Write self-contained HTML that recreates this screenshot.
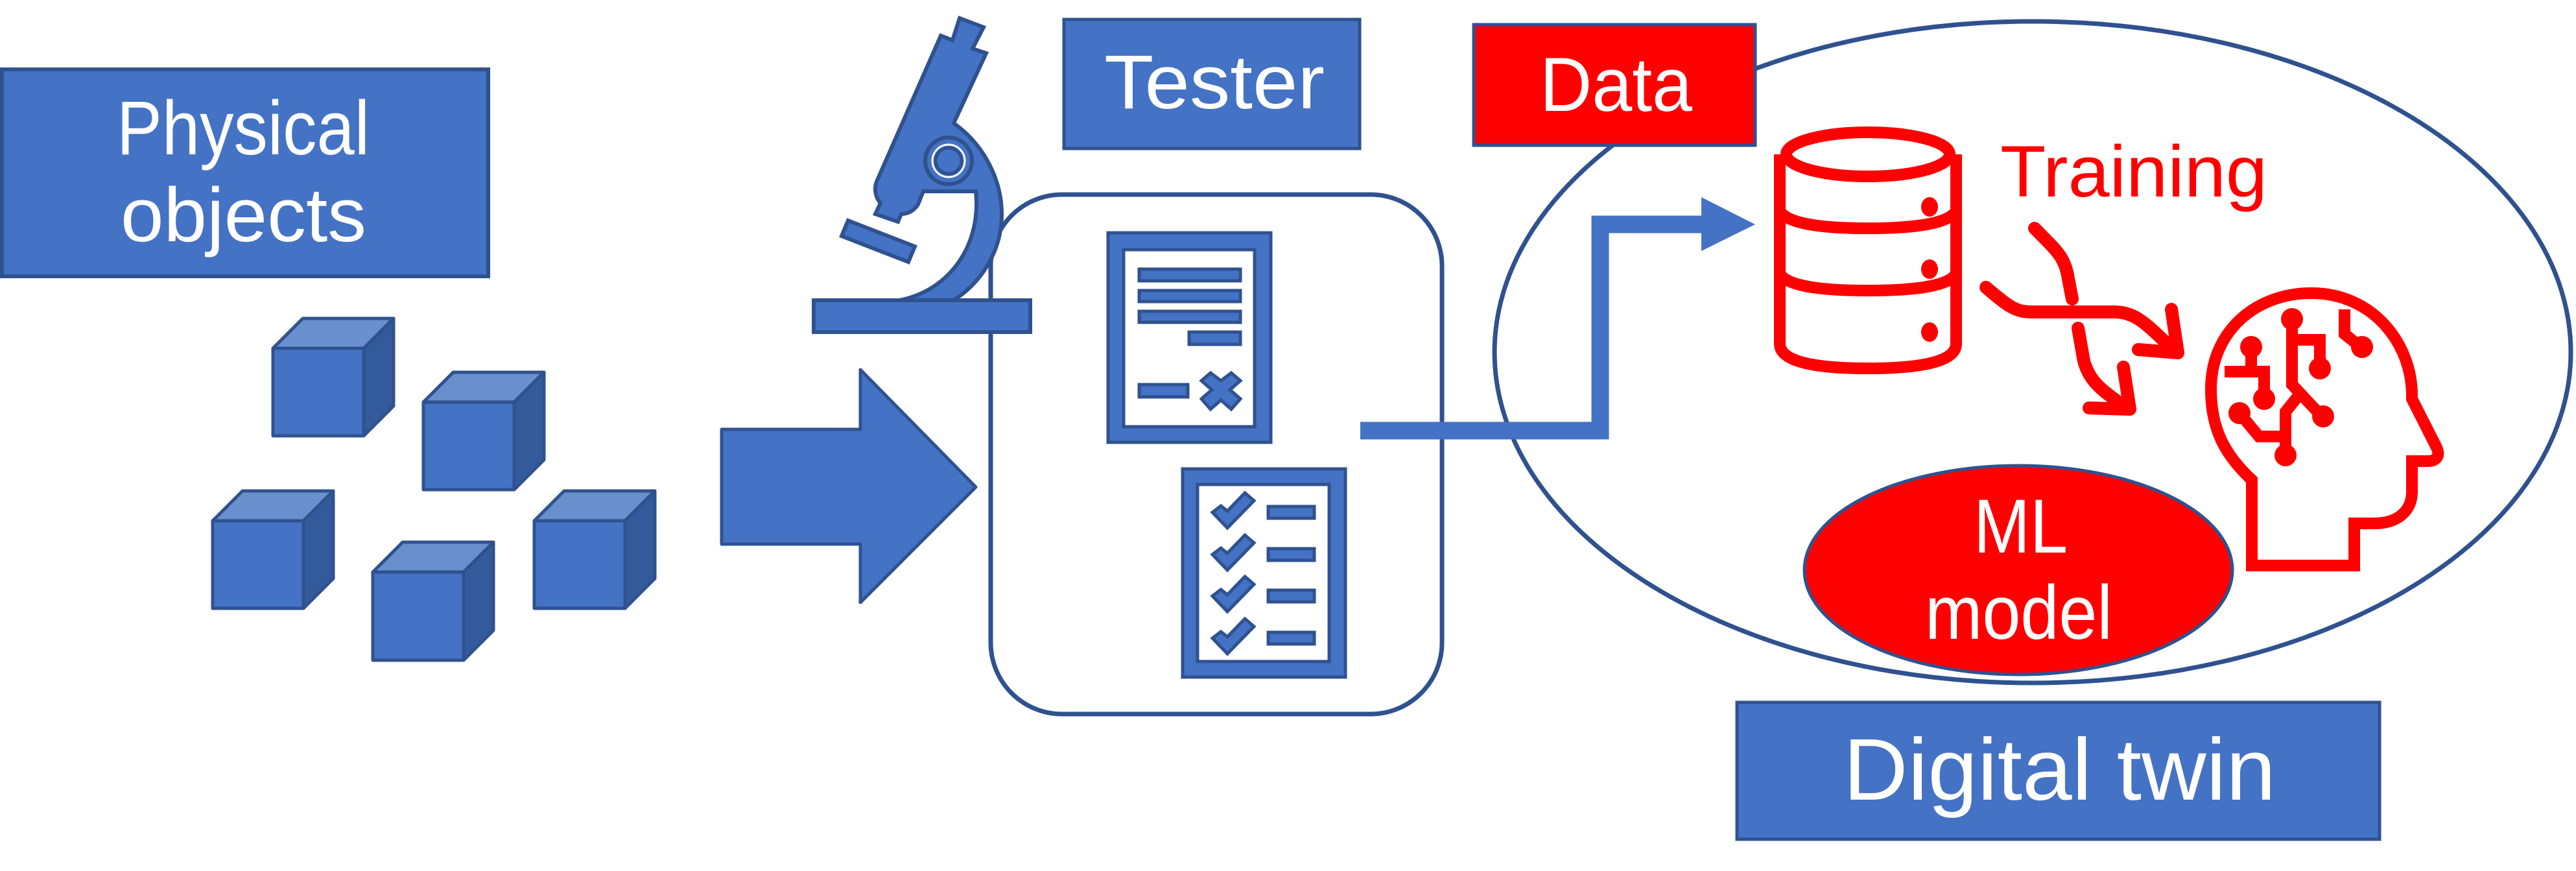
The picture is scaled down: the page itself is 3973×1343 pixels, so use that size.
<!DOCTYPE html>
<html><head><meta charset="utf-8"><style>html,body{margin:0;padding:0;background:#fff}svg{display:block}</style></head>
<body>
<svg width="3973" height="1343" viewBox="0 0 3973 1343" xmlns="http://www.w3.org/2000/svg" font-family="'Liberation Sans', sans-serif">
<g stroke="#2F528F" stroke-width="6" fill="#4472C4">
<!-- Physical objects box -->
<rect x="3" y="107" width="750" height="319"/>
<!-- cubes -->
<g id="c">
</g>
</g>
<g stroke="#2F528F" stroke-width="5" stroke-linejoin="round">
<!-- cube generator: front x,y w140 h135; depth 46 -->
<polygon points="421,537 467,491 607,491 561,537" fill="#6A8FCD"/><polygon points="561,537 607,491 607,626 561,672" fill="#335A9A"/><rect x="421" y="537" width="140" height="135" fill="#4472C4"/>
<polygon points="653,620 699,574 839,574 793,620" fill="#6A8FCD"/><polygon points="793,620 839,574 839,709 793,755" fill="#335A9A"/><rect x="653" y="620" width="140" height="135" fill="#4472C4"/>
<polygon points="328,803 374,757 514,757 468,803" fill="#6A8FCD"/><polygon points="468,803 514,757 514,892 468,938" fill="#335A9A"/><rect x="328" y="803" width="140" height="135" fill="#4472C4"/>
<polygon points="575,882 621,836 761,836 715,882" fill="#6A8FCD"/><polygon points="715,882 761,836 761,972 715,1018" fill="#335A9A"/><rect x="575" y="882" width="140" height="136" fill="#4472C4"/>
<polygon points="824,803 870,757 1010,757 964,803" fill="#6A8FCD"/><polygon points="964,803 1010,757 1010,892 964,938" fill="#335A9A"/><rect x="824" y="803" width="140" height="135" fill="#4472C4"/>
<!-- big arrow -->
<polygon points="1113,662 1327,662 1327,570 1505,751 1327,929 1327,839 1113,839" fill="#4472C4"/>
</g>
<!-- rounded tester box -->
<rect x="1528" y="300" width="696" height="801" rx="110" ry="110" fill="none" stroke="#2F528F" stroke-width="7"/>
<!-- microscope -->
<g stroke="#2F528F" stroke-width="6" fill="#4472C4" stroke-linejoin="miter">
<path d="M1480,28 L1517,42 L1500,75 L1521,82 L1471,190 C1520,225 1545,280 1545,330 C1545,390 1510,440 1467,465 L1370,465 C1450,460 1515,390 1505,295 L1424,295 L1416,315 C1410,325 1400,330 1390,330 L1385,342 L1350,330 L1358,313 C1350,305 1348,290 1352,280 L1451,55 L1469,62 Z"/>
<rect x="1255" y="463" width="334" height="49"/>
<polygon points="1308,340 1411,380 1401,404 1298,364"/>
<circle cx="1463" cy="248" r="36"/>
<circle cx="1463" cy="248" r="25" stroke="#fff" stroke-width="3"/>
<circle cx="1463" cy="248" r="20" stroke="#2F528F" stroke-width="5"/>
</g>
<!-- documents -->
<g stroke="#2F528F" stroke-width="5" fill="#4472C4">
<rect x="1709" y="359" width="251" height="323"/>
<rect x="1733" y="385" width="202" height="273" fill="#fff"/>
<rect x="1757" y="415" width="156" height="18"/>
<rect x="1757" y="448" width="156" height="17"/>
<rect x="1757" y="480" width="156" height="17"/>
<rect x="1834" y="512" width="79" height="19"/>
<rect x="1757" y="593" width="75" height="19"/>
<polygon points="1853,587 1867,575 1883,587 1899,575 1913,587 1897,601 1913,615 1899,631 1883,617 1867,631 1853,615 1869,601"/>
<rect x="1824" y="723" width="251" height="321"/>
<rect x="1847" y="747" width="203" height="273" fill="#fff"/>
<g id="chk">
<polygon points="1870,790 1883,780 1893,788 1920,760 1934,772 1893,814"/>
<rect x="1956" y="781" width="71" height="18"/>
</g>
<polygon points="1870,855 1883,845 1893,853 1920,825 1934,837 1893,879"/><rect x="1956" y="846" width="71" height="18"/>
<polygon points="1870,919 1883,909 1893,917 1920,889 1934,901 1893,943"/><rect x="1956" y="910" width="71" height="18"/>
<polygon points="1870,984 1883,974 1893,982 1920,954 1934,966 1893,1008"/><rect x="1956" y="975" width="71" height="18"/>
</g>
<!-- Tester box -->
<rect x="1641" y="30" width="456" height="199" fill="#4472C4" stroke="#2F528F" stroke-width="5"/>
<!-- big ellipse -->
<ellipse cx="3135" cy="543" rx="830" ry="510" fill="none" stroke="#2F528F" stroke-width="7"/>
<!-- Data box -->
<rect x="2273" y="38" width="434" height="186" fill="#FF0000" stroke="#2F528F" stroke-width="5"/>
<!-- connector -->
<path d="M2098,664 L2468,664 L2468,346 L2624,346" fill="none" stroke="#4472C4" stroke-width="27"/>
<polygon points="2624,304 2707,346 2624,387" fill="#4472C4"/>
<!-- database -->
<g fill="none" stroke="#FF0000" stroke-width="18">
<ellipse cx="2881" cy="238" rx="126" ry="34"/>
<path d="M2745,238 L2745,530 Q2745,568 2881,568 Q3017,568 3017,530 L3017,238"/>
<path d="M2745,325 Q2760,352 2881,352 Q3002,352 3017,325"/>
<path d="M2745,422 Q2760,448 2881,448 Q3002,448 3017,422"/>
</g>
<g fill="#FF0000"><ellipse cx="2976" cy="319" rx="13" ry="15"/><ellipse cx="2976" cy="415" rx="13" ry="15"/><ellipse cx="2976" cy="512" rx="13" ry="15"/></g>
<!-- training arrows -->
<g fill="none" stroke="#FF0000" stroke-width="20" stroke-linecap="round" stroke-linejoin="round">
<path d="M3063,443 C3100,475 3110,481 3135,481 L3260,481 C3295,481 3310,500 3352,539"/>
<path d="M3349,477 L3359,544 L3298,539"/>
<path d="M3138,352 C3170,385 3185,395 3190,430 L3196,461"/>
<path d="M3205,506 L3214,557 C3225,595 3250,605 3278,629"/>
<path d="M3275,566 L3285,631 L3222,629"/>
</g>
<!-- head -->
<g fill="none" stroke="#FF0000" stroke-width="18">
<path d="M3473,872 L3473,740 C3430,700 3410,660 3410,600 C3410,510 3480,452 3565,452 C3660,452 3720,530 3720,610 L3720,615 L3758,690 C3765,705 3755,711 3745,711 L3720,711 L3720,758 C3720,790 3695,807 3663,807 L3631,807 L3631,872 Z"/>
<path d="M3535,492 L3535,593 L3581,642"/>
<path d="M3535,524 L3578,524 L3578,566"/>
<path d="M3545,610 L3525,635 L3525,702"/>
<path d="M3525,673 L3484,673 L3454,637"/>
<path d="M3472,535 L3472,573 L3492,573 L3492,615"/>
<path d="M3431,573 L3472,573"/>
<path d="M3616,477 L3616,515 L3641,535"/>
</g>
<g fill="#FF0000">
<ellipse cx="3535" cy="492" rx="17" ry="17"/><ellipse cx="3578" cy="568" rx="17" ry="17"/><ellipse cx="3583" cy="642" rx="17" ry="17"/>
<ellipse cx="3525" cy="702" rx="17" ry="17"/><ellipse cx="3454" cy="637" rx="17" ry="17"/><ellipse cx="3472" cy="535" rx="17" ry="17"/>
<ellipse cx="3492" cy="615" rx="17" ry="17"/><ellipse cx="3643" cy="535" rx="17" ry="17"/>
</g>
<!-- ML ellipse -->
<ellipse cx="3113" cy="879" rx="330" ry="161" fill="#FF0000" stroke="#2F528F" stroke-width="5"/>
<!-- Digital twin box -->
<rect x="2679" y="1083" width="991" height="211" fill="#4472C4" stroke="#2F528F" stroke-width="5"/>
<!-- texts -->
<g fill="#fff" font-size="118">
<text x="180" y="238" textLength="390" lengthAdjust="spacingAndGlyphs">Physical</text>
<text x="186" y="372" textLength="379" lengthAdjust="spacingAndGlyphs">objects</text>
<text x="1703" y="167" textLength="340" lengthAdjust="spacingAndGlyphs">Tester</text>
<text x="2375" y="171" textLength="235" lengthAdjust="spacingAndGlyphs">Data</text>
<text x="3044" y="852" textLength="145" lengthAdjust="spacingAndGlyphs">ML</text>
<text x="2969" y="985" textLength="289" lengthAdjust="spacingAndGlyphs">model</text>
<text x="2843" y="1233" font-size="135" textLength="667" lengthAdjust="spacingAndGlyphs">Digital twin</text>
</g>
<text x="3085" y="303" fill="#FF0000" font-size="112" textLength="412" lengthAdjust="spacingAndGlyphs">Training</text>
</svg>
</body></html>
